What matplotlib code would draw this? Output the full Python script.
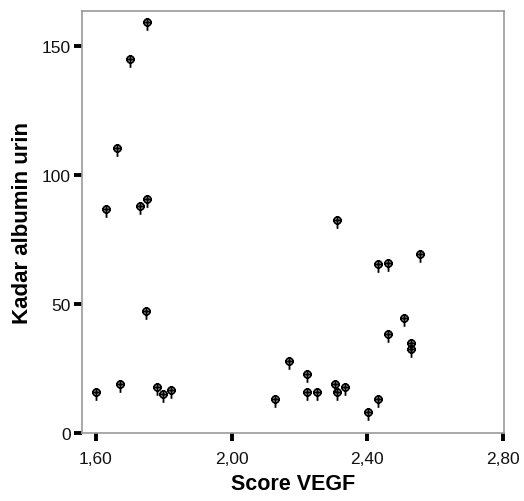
import matplotlib
matplotlib.use("Agg")
import matplotlib.pyplot as plt
from matplotlib.path import Path
import numpy as np

plt.rcParams['font.family'] = ['Liberation Sans', 'DejaVu Sans']

score_vegf = [1.751, 1.700, 1.661, 1.629, 1.729, 1.751,
              1.749, 1.600, 1.671, 1.780, 1.798, 1.820, 2.129,
              2.310, 2.432, 2.462, 2.554, 2.509, 2.462, 2.529, 2.529,
              2.169, 2.222, 2.222, 2.253, 2.304, 2.310, 2.333, 2.432, 2.403]
albumin = [159.4, 145.0, 110.6, 86.6, 88.0, 90.7,
           47.3, 15.8, 18.9, 17.8, 15.0, 16.5, 13.2,
           82.7, 65.4, 65.9, 69.5, 44.7, 38.5, 34.9, 32.6,
           27.9, 22.8, 16.0, 15.8, 19.1, 15.8, 17.8, 13.2, 8.3]

x_ticks = [1.60, 2.00, 2.40, 2.80]
x_ticklabels = ["1,60", "2,00", "2,40", "2,80"]
y_ticks = [0, 50, 100, 150]
y_ticklabels = ["0", "50", "100", "150"]

# SPSS-like marker: circle with cross and a stem below
circ = Path.unit_circle()
verts = list(circ.vertices) + [(-1.2, 0), (1.2, 0), (0, 1.2), (0, -2.4)]
codes = list(circ.codes) + [Path.MOVETO, Path.LINETO, Path.MOVETO, Path.LINETO]
marker = Path(verts, codes)

fig = plt.figure(figsize=(5.24, 5.02), dpi=100)
ax = fig.add_axes([82/524, 68/502, 422/524, 422/502])

ax.plot(score_vegf, albumin, linestyle='none', marker=marker, markersize=12,
        markerfacecolor='none', markeredgecolor='black', markeredgewidth=1.3)

ax.set_xlim(1.559, 2.803)
ax.set_ylim(0, 163.5)
ax.set_xticks(x_ticks)
ax.set_xticklabels(x_ticklabels)
ax.set_yticks(y_ticks)
ax.set_yticklabels(y_ticklabels)
ax.tick_params(axis='both', direction='out', length=6, width=2.8, color='black',
               labelsize=12.5, labelcolor='#111111')
ax.tick_params(axis='x', pad=7)
ax.tick_params(axis='y', pad=2)
for s in ax.spines.values():
    s.set_color('#999999')
    s.set_linewidth(1.2)

ax.set_xlabel("Score VEGF", fontsize=15.5, fontweight='bold', labelpad=5)
ax.set_ylabel("Kadar albumin urin", fontsize=16, fontweight='bold', labelpad=6)

fig.savefig("out.png", dpi=100)
